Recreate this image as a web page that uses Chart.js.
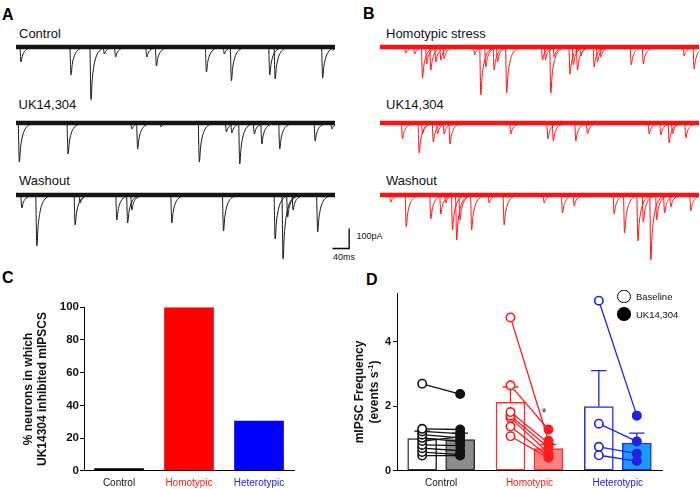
<!DOCTYPE html>
<html><head><meta charset="utf-8">
<script src="https://cdn.jsdelivr.net/npm/chart.js@4.4.1/dist/chart.umd.min.js"></script>
<style>
html,body{margin:0;padding:0;background:#fff;}
body{width:700px;height:489px;position:relative;overflow:hidden;font-family:"Liberation Sans",Arial,sans-serif;}
canvas{position:absolute;}
.t{position:absolute;line-height:1;white-space:nowrap;color:#111;font-size:13px;}
.p{font-weight:bold;font-size:16px;color:#000;}
.s{font-size:9px;}
.leg{position:absolute;border-radius:50%;box-sizing:border-box;}
</style></head><body>

<div class="t p" style="left:2px;top:6.5px">A</div>
<div class="t p" style="left:363px;top:6px">B</div>
<div class="t p" style="left:2px;top:269.5px">C</div>
<div class="t p" style="left:366px;top:271.5px">D</div>

<div class="t" style="left:19px;top:27.3px">Control</div>
<div class="t" style="left:18.5px;top:97.5px">UK14,304</div>
<div class="t" style="left:19px;top:174px">Washout</div>
<div class="t" style="left:386px;top:27.3px">Homotypic stress</div>
<div class="t" style="left:386px;top:98px">UK14,304</div>
<div class="t" style="left:386px;top:174px">Washout</div>
<div class="t s" style="left:356.5px;top:232px">100pA</div>
<div class="t s" style="left:333px;top:252.5px">40ms</div>

<canvas id="a1"></canvas><canvas id="a2"></canvas><canvas id="a3"></canvas>
<canvas id="b1"></canvas><canvas id="b2"></canvas><canvas id="b3"></canvas>
<canvas id="cc"></canvas><canvas id="dd"></canvas>

<div style="position:absolute;left:266.5px;top:376.5px;width:200px;height:30px;line-height:15px;text-align:center;transform:rotate(-90deg);font-weight:bold;font-size:12px;color:#111;">mIPSC Frequency<br>(events s<sup style="font-size:8px;line-height:0">-1</sup>)</div>
<div class="leg" style="left:617px;top:289.5px;width:13.5px;height:13.5px;border:1.6px solid #000;background:#fff"></div>
<div class="leg" style="left:617px;top:307.3px;width:13.5px;height:13.5px;background:#000"></div>
<div class="t" style="left:636px;top:292px;font-size:9.5px">Baseline</div>
<div class="t" style="left:636px;top:309.5px;font-size:9.5px">UK14,304</div>
<div class="t" style="left:541.5px;top:406px;font-size:13px;color:#333">*</div>

<script>
// ---------- DATA ----------
// Traces: event peak times (ms) and amplitudes (pA, inward = downward)
const a1Times = [12,132,180,212,239,314,337,457,500,517,609,622,736,762];
const a1Amps  = [75,140,263,35,50,50,95,125,35,170,140,160,155,15];
const a2Times = [8,125,278,292,348,440,505,518,537,572,590,633,718,758];
const a2Amps  = [195,155,30,130,20,195,45,50,205,55,105,130,90,30];
const a3Times = [14,50,142,154,242,268,278,374,498,622,641,652,665,724];
const a3Amps  = [65,255,150,40,125,140,75,140,180,220,320,110,75,185];
const b1Times = [62,83,102,112,122,134,146,154,227,242,254,274,282,304,390,397,410,418,456,464,474,482,514,522,530,603,632,730,754];
const b1Amps  = [30,35,155,85,115,75,65,60,40,240,100,115,75,230,65,65,230,50,135,90,115,45,100,75,50,90,85,45,110];
const b2Times = [54,94,102,128,138,154,168,314,403,416,470,498,646,674,694,702,734];
const b2Amps  = [80,150,55,95,55,55,105,55,80,90,90,55,55,60,100,55,75];
const b3Times = [26,63,122,146,158,174,184,192,220,262,298,394,438,466,562,587,619,632,650,664,683,698,746];
const b3Amps  = [35,160,120,95,40,175,225,125,175,40,150,40,90,55,95,190,230,135,325,125,90,60,80];
const scaleBarMs = 40;
const scaleBarPa = 100;

// Panel C
const groups = ['Control','Homotypic','Heterotypic'];
const cPercent = [1.5, 100, 30.5];
const cYTicks = [0,20,40,60,80,100];

// Panel D
const dYTicks = [0,2,4];
const dBaselineMean = [1.0, 2.12, 1.99];
const dBaselineErrTop = [1.23, 2.6, 3.11];
const dUkMean = [0.97, 0.69, 0.86];
const dUkErrTop = [1.17, 0.82, 1.17];
const controlBaseline = [2.70, 1.30, 1.22, 1.12, 1.02, 0.92, 0.80, 0.70, 0.58, 0.47];
const controlUk       = [2.38, 1.28, 1.15, 1.02, 0.90, 1.05, 0.78, 0.62, 0.50, 0.47];
const homoBaseline = [4.76, 2.65, 1.82, 1.71, 1.64, 1.37, 1.07];
const homoUk       = [0.93, 1.28, 0.85, 0.72, 0.55, 0.45, 0.40];
const heteroBaseline = [5.28, 1.46, 0.74, 0.48];
const heteroUk       = [1.71, 0.91, 0.53, 0.30];

// ---------- STYLE ----------
Chart.defaults.font.family = '"Liberation Sans", Arial, sans-serif';
Chart.defaults.animation = false;
const MS_PER_PX = 2.4, PA_PER_PX = 5;
const eventShapeDt   = [-2.5, 0, 3, 7, 13, 22, 35];
const eventShapeFrac = [0, 1, 0.62, 0.36, 0.17, 0.06, 0];
const groupColors = ['#111111','#ff1a1a','#2222e0'];

function place(id, left, top, w, h){
  const c = document.getElementById(id);
  c.width = w; c.height = h;
  c.style.left = left+'px'; c.style.top = top+'px';
  return c;
}

function traceChart(id, left, baselineY, widthPx, times, amps, color, extra){
  const h = 76, above = 6;
  const c = place(id, left, baselineY-above, widthPx, h);
  const xmax = widthPx*MS_PER_PX;
  const traceEnd = 319*MS_PER_PX;
  const ds = [];
  times.forEach((t,i)=>{
    ds.push({data: eventShapeDt.map((d,k)=>({x:t+d, y:-amps[i]*eventShapeFrac[k]})),
      borderColor:color, borderWidth:1, pointRadius:0, cubicInterpolationMode:'monotone', fill:false});
  });
  ds.push({data:[{x:0,y:0},{x:traceEnd,y:0}], borderColor:color, borderWidth:4.5, pointRadius:0});
  if (extra) extra.forEach(e=>ds.push(e));
  new Chart(c, {
    type:'line',
    data:{datasets:ds},
    options:{
      responsive:false, events:[],
      layout:{padding:0},
      plugins:{legend:{display:false}, tooltip:{enabled:false}},
      scales:{
        x:{type:'linear', display:false, min:0, max:xmax},
        y:{type:'linear', display:false, max:above*PA_PER_PX, min:(above-h)*PA_PER_PX}
      }
    }
  });
}

traceChart('a1', 16, 46.5, 319, a1Times, a1Amps, '#151515');
traceChart('a2', 16, 122.5, 319, a2Times, a2Amps, '#151515');
const sbX0 = (332.5-16)*MS_PER_PX, sbY0 = -(248.5-195)*PA_PER_PX;
traceChart('a3', 16, 195, 345, a3Times, a3Amps, '#151515', [
  {data:[{x:sbX0,y:sbY0},{x:sbX0+scaleBarMs,y:sbY0},{x:sbX0+scaleBarMs,y:sbY0+scaleBarPa}],
   borderColor:'#000', borderWidth:1.3, pointRadius:0, tension:0}
]);
traceChart('b1', 379.5, 46.5, 319, b1Times, b1Amps, '#ff1010');
traceChart('b2', 379.5, 122.5, 319, b2Times, b2Amps, '#ff1010');
traceChart('b3', 379.5, 195, 319, b3Times, b3Amps, '#ff1010');

// ---------- Panel C ----------
const axisCommon = {
  grid:{display:true, drawOnChartArea:false, drawTicks:true, tickLength:4, color:'#000', lineWidth:1},
  border:{display:true, color:'#000', width:1}
};
new Chart(place('cc', 0, 290, 300, 199), {
  type:'bar',
  data:{labels:groups, datasets:[{data:cPercent, backgroundColor:['#000','#ff0000','#0000ff'],
    borderWidth:0, categoryPercentage:1, barPercentage:0.71}]},
  options:{
    responsive:false, events:[],
    layout:{padding:{top:17.3, right:6, left:0, bottom:0}},
    plugins:{legend:{display:false}, tooltip:{enabled:false}},
    scales:{
      x:{grid:{display:false, drawTicks:false}, border:{display:true,color:'#000',width:1},
         ticks:{color:(c)=>groupColors[c.index], font:{size:10}, padding:7},
         afterFit:(s)=>{s.height=18.3;}},
      y:{min:0, max:100, ...axisCommon,
         afterBuildTicks:(s)=>{s.ticks=cYTicks.map(v=>({value:v}));},
         ticks:{color:'#111', font:{size:11.5, weight:'bold'}, padding:1},
         title:{display:true, text:['% neurons in which','UK14304 inhibited mIPSCS'], color:'#111',
                font:{size:12, weight:'bold', lineHeight:1.17}, padding:{top:22, bottom:0}},
         afterFit:(s)=>{s.width=84;}}
    }
  }
});

// ---------- Panel D ----------
const OFF = 0.215, CAP = 0.088;
const edge = ['#333','#ff2a2a','#2a2ae6'];
const dDatasets = [
  {type:'bar', xAxisID:'xl', grouped:false, barThickness:29,
   data:dBaselineMean.map((v,i)=>({x:i-OFF, y:v})), backgroundColor:'#ffffff', borderColor:edge,
   borderWidth:1.5, borderSkipped:false, order:5},
  {type:'bar', xAxisID:'xl', grouped:false, barThickness:29,
   data:dUkMean.map((v,i)=>({x:i+OFF, y:v})), backgroundColor:['#8c8c8c','#ff8282','#1a9cff'], borderColor:edge,
   borderWidth:1.5, borderSkipped:false, order:5}
];
// error bars (upward only)
[[dBaselineMean,dBaselineErrTop,-OFF],[dUkMean,dUkErrTop,OFF]].forEach(([m,top,o])=>{
  m.forEach((v,i)=>{
    const x=i+o;
    dDatasets.push({type:'line', xAxisID:'xl', order:3,
      data:[{x:x,y:v},{x:x,y:top[i]},{x:x-CAP,y:top[i]},{x:x+CAP,y:top[i]}],
      borderColor:groupColors[i], borderWidth:1.3, pointRadius:0, tension:0});
  });
});
// paired individual neurons
[[controlBaseline,controlUk],[homoBaseline,homoUk],[heteroBaseline,heteroUk]].forEach(([b,u],gi)=>{
  b.forEach((v,k)=>{
    dDatasets.push({type:'line', xAxisID:'xl', order:1,
      data:[{x:gi-OFF,y:v},{x:gi+OFF,y:u[k]}],
      borderColor:groupColors[gi], borderWidth:1.3, tension:0,
      pointRadius:4.2, pointBorderWidth:1.6, pointBorderColor:groupColors[gi],
      pointBackgroundColor:['#ffffff', groupColors[gi]]});
  });
});
new Chart(place('dd', 350, 285, 350, 204), {
  type:'bar',
  data:{labels:groups, datasets:dDatasets},
  options:{
    responsive:false, events:[],
    layout:{padding:{top:7, right:38, left:0, bottom:0}},
    plugins:{legend:{display:false}, tooltip:{enabled:false}},
    scales:{
      x:{type:'category', offset:true, grid:{display:false, drawTicks:false}, border:{display:true,color:'#000',width:1},
         ticks:{color:(c)=>groupColors[c.index], font:{size:10}, padding:7},
         afterFit:(s)=>{s.height=18.3;}},
      xl:{type:'linear', display:false, min:-0.5, max:2.5, offset:false},
      y:{min:0, max:5.5, ...axisCommon,
         afterBuildTicks:(s)=>{s.ticks=dYTicks.map(v=>({value:v}));},
         ticks:{color:'#111', font:{size:11, weight:'bold'}, padding:2},
         afterFit:(s)=>{s.width=47;}}
    }
  }
});
</script>
</body></html>
